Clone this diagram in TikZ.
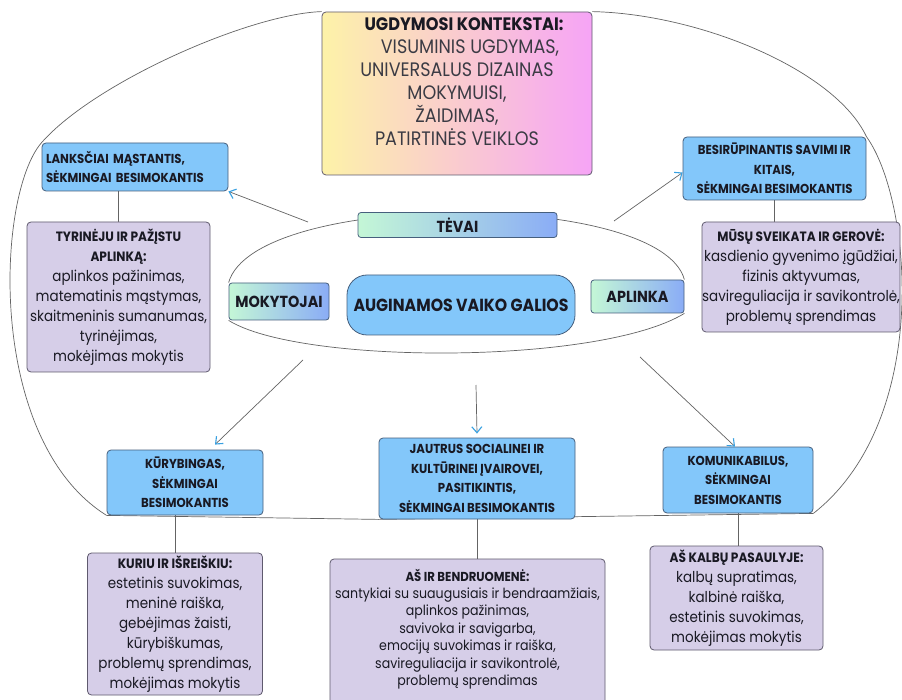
\documentclass[tikz,border=0pt]{standalone}
\usepackage{fontspec}
\setmainfont{Poppins}[FakeStretch=0.9]
\usetikzlibrary{arrows.meta,backgrounds,calc}
\definecolor{cBlue}{RGB}{131,199,250}
\definecolor{cBlueDraw}{RGB}{70,95,125}
\definecolor{cPurple}{RGB}{214,206,232}
\definecolor{cPurpleDraw}{RGB}{95,90,110}
\definecolor{cGLeft}{RGB}{196,247,214}
\definecolor{cGRight}{RGB}{138,172,246}
\definecolor{cTLeft}{RGB}{253,242,168}
\definecolor{cTMid}{RGB}{250,210,200}
\definecolor{cTRight}{RGB}{246,164,246}
\definecolor{cLine}{RGB}{100,100,100}
\definecolor{cTip}{RGB}{55,160,225}
\definecolor{cTxt}{RGB}{25,25,35}
\tikzset{
  bluebox/.style={draw=cBlueDraw, fill=cBlue, rounded corners=4pt, line width=0.8pt,
    inner sep=0pt, align=center, text=cTxt, font=\fontsize{13}{19.5}\selectfont\bfseries},
  purplebox/.style={draw=cPurpleDraw, fill=cPurple, rounded corners=4pt, line width=0.8pt,
    inner sep=0pt, align=center, text=cTxt, font=\fontsize{15}{20}\selectfont},
  gradbox/.style={draw=cBlueDraw, left color=cGLeft, right color=cGRight, rounded corners=3pt,
    line width=0.8pt, inner sep=0pt, text=cTxt, font=\fontsize{16}{19}\selectfont\bfseries},
  conn/.style={draw=cLine, line width=0.7pt},
  arr/.style={conn, -{Straight Barb[length=6pt,width=10pt,color=cTip,line width=1.1pt]}}
}
\newcommand{\hdl}[1]{{\fontsize{13.5}{20}\selectfont\bfseries #1}}
\begin{document}
\begin{tikzpicture}[x=1pt,y=-1pt]
\useasboundingbox (0,0) rectangle (902,700);

% top context box
\node[draw=cPurpleDraw, line width=0.8pt, rounded corners=4pt, left color=cTLeft, middle color=cTMid, right color=cTRight,
      minimum width=270pt, minimum height=163pt, inner sep=0pt] (top) at (457,93.5) {};
\node[align=center, text=cTxt!85, font=\fontsize{19.5}{23}\selectfont, inner sep=0pt] (topt) at (457,82)
 {\hspace*{14pt}{\fontsize{18}{23}\selectfont\bfseries\color{cTxt} UGDYMOSI KONTEKSTAI:}\\
  \hspace*{26pt}VISUMINIS UGDYMAS,\\
  UNIVERSALUS DIZAINAS\\
  MOKYMUISI,\hspace*{20pt}\\
  ŽAIDIMAS,\hspace*{12pt}\\
  PATIRTINĖS VEIKLOS};

% upper blue boxes
\node[bluebox, text width=178pt, inner xsep=4pt, align=left, minimum height=48pt] (lank) at (135,167)
 {LANKSČIAI MĄSTANTIS,\\SĖKMINGAI BESIMOKANTIS};
\node[bluebox, minimum width=183pt, minimum height=63pt] (besir) at (774.5,168.5)
 {BESIRŪPINANTIS SAVIMI IR\\KITAIS,\\SĖKMINGAI BESIMOKANTIS};

% upper purple boxes
\node[purplebox, minimum width=183pt, minimum height=150pt] (tyr) at (118.5,297)
 {\hdl{TYRINĖJU IR PAŽĮSTU}\\\hdl{APLINKĄ:}\\aplinkos pažinimas,\\matematinis mąstymas,\\skaitmeninis sumanumas,\\tyrinėjimas,\\mokėjimas mokytis};
\node[purplebox, minimum width=198pt, minimum height=110pt] (musu) at (801,277)
 {\hdl{MŪSŲ SVEIKATA IR GEROVĖ:}\\kasdienio gyvenimo įgūdžiai,\\fizinis aktyvumas,\\savireguliacija ir savikontrolė,\\problemų sprendimas};

% central lens nodes
\node[gradbox, minimum width=199pt, minimum height=25pt] (tevai) at (457.5,225) {TĖVAI};
\node[gradbox, minimum width=100pt, minimum height=37pt] (mok) at (279,301.5) {MOKYTOJAI};
\node[gradbox, minimum width=93pt, minimum height=33pt] (apl) at (637.5,296.5) {APLINKA};
\node[draw=cBlueDraw, fill=cBlue, rounded corners=20pt, line width=0.8pt, minimum width=228pt, minimum height=60pt,
      inner sep=0pt, text=cTxt, font=\fontsize{17.5}{20}\selectfont\bfseries] (aug) at (461,305) {AUGINAMOS VAIKO GALIOS};

% lower blue boxes
\node[bluebox, minimum width=156pt, minimum height=65pt] (kur) at (185,482.5)
 {KŪRYBINGAS,\\SĖKMINGAI\\BESIMOKANTIS};
\node[bluebox, minimum width=196pt, minimum height=81pt] (jaut) at (477,478.5)
 {JAUTRUS SOCIALINEI IR\\KULTŪRINEI ĮVAIROVEI,\\PASITIKINTIS,\\SĖKMINGAI BESIMOKANTIS};
\node[bluebox, minimum width=150pt, minimum height=66pt] (kom) at (738,480)
 {KOMUNIKABILUS,\\SĖKMINGAI\\BESIMOKANTIS};

% lower purple boxes
\node[purplebox, minimum width=175pt, minimum height=142pt] (kuriu) at (175,624)
 {\hdl{KURIU IR IŠREIŠKIU:}\\estetinis suvokimas,\\meninė raiška,\\gebėjimas žaisti,\\kūrybiškumas,\\problemų sprendimas,\\mokėjimas mokytis};
\node[purplebox, minimum width=275pt, minimum height=153pt] (as) at (467.5,635.5) {};
\node[align=center, inner sep=0pt, text=cTxt, font=\fontsize{14}{17.4}\selectfont] (ast) at (467.5,629)
 {{\fontsize{13}{17.4}\selectfont\bfseries AŠ IR BENDRUOMENĖ:}\\santykiai su suaugusiais ir bendraamžiais,\\aplinkos pažinimas,\\savivoka ir savigarba,\\emocijų suvokimas ir raiška,\\savireguliacija ir savikontrolė,\\problemų sprendimas};
\node[purplebox, minimum width=173pt, minimum height=104pt] (kalb) at (736.5,598)
 {\hdl{AŠ KALBŲ PASAULYJE:}\\kalbų supratimas,\\kalbinė raiška,\\estetinis suvokimas,\\mokėjimas mokytis};

% arrow start points
\coordinate (s1) at (308,222);
\coordinate (s2) at (614,221);
\coordinate (s3) at (303,360);
\coordinate (s4) at (476,385);
\coordinate (s5) at (640,357);

\begin{scope}[on background layer]
  \fill[white] (0,0) rectangle (902,700);
  % outer oval
  \draw[conn] (top.north west) .. controls (250,14) and (95,82) .. (lank.north west)
              .. controls (-4,195) and (-14,440) .. (kur.south west);
  \draw[conn] (top.north east) .. controls (700,14) and (835,70) .. (besir.north east)
              .. controls (912,200) and (932,420) .. (kom.south east);
  \draw[conn] (kur.south west) -- (jaut.south west) -- (kom.south east);
  % inner lens
  \draw[conn] (mok.north west) .. controls (255,190) and (660,190) .. (apl.north east);
  \draw[conn] (mok.south west) .. controls (300,365) and (600,365) .. (apl.south east);
  % box links
  \draw[conn] (tyr.north) -- (tyr.north |- lank.south);
  \draw[conn] (besir.south) -- (besir.south |- musu.north);
  \draw[conn] (kuriu.north) -- (kuriu.north |- kur.south);
  \draw[conn] (jaut.south) -- (jaut.south |- as.north);
  \draw[conn] (kom.south) -- (kom.south |- kalb.north);
\end{scope}

% arrows
\draw[arr] (s1) -- (lank.south east);
\draw[arr] (s2) -- ([yshift=-4pt]besir.west);
\draw[arr] (s3) -- ([xshift=30pt,yshift=5pt]kur.north);
\draw[arr] (s4) -- ([yshift=4pt]jaut.north);
\draw[arr] (s5) -- ([xshift=-3pt]kom.north);
\end{tikzpicture}
\end{document}
